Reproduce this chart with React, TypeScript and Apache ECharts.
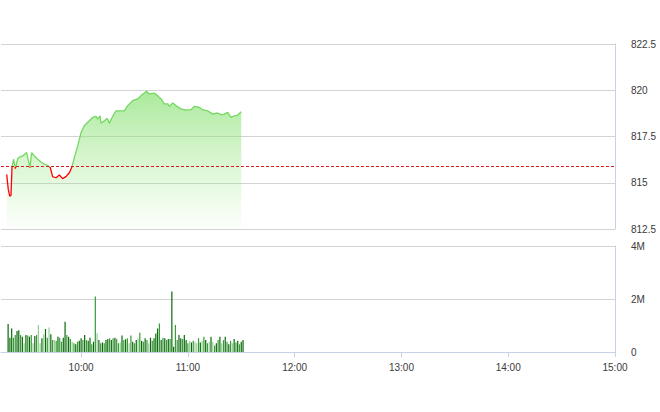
import React, { useEffect, useRef, useState } from "react";
import * as echarts from "echarts";

// Minutes after 09:15 for each price reading
const priceMinutes = [3.2,4.1,4.9,5.6,6.2,7.1,8.1,9.4,10.3,12.2,14.4,15.4,16.3,17.2,18.7,20.6,22.5,24.3,26.2,27.7,29.0,30.9,32.8,34.6,36.5,38.4,39.9,41.2,43.1,45.0,46.8,49.6,51.5,53.4,54.3,55.6,56.2,58.1,59.6,60.9,62.4,64.6,67.4,69.3,71.2,74.0,76.8,78.7,81.8,83.3,86.2,88.0,89.9,91.8,93.7,94.6,96.5,98.3,101.1,104.0,106.8,108.6,111.4,113.3,116.1,118.9,121.7,123.6,125.5,127.4,129.2,131.1,133.0,135.0];
const priceValues = [815.45,814.64,814.28,814.31,815.87,816.27,815.76,816.30,816.38,816.45,816.63,816.18,815.82,816.63,816.45,816.27,816.12,816.00,815.94,815.82,815.33,815.27,815.42,815.22,815.33,815.54,815.87,816.36,816.99,817.72,818.08,818.35,818.53,818.59,818.44,818.62,818.22,818.35,818.48,818.22,818.53,818.89,818.89,818.89,819.17,819.44,819.53,819.71,819.95,819.80,819.84,819.71,819.53,819.26,819.26,819.13,819.31,819.17,818.99,818.93,818.95,819.13,819.08,818.95,818.89,818.71,818.77,818.68,818.71,818.80,818.53,818.62,818.66,818.84];
const referencePrice = 815.87;

// Volume per minute starting 09:19 (millions)
const volumeValues = [
  1.06,0.54,0.89,0.54,0.64,0.79,0.82,0.64,0.58,0.33,0.64,0.62,0.58,0.64,0.33,0.60,0.64,1.02,0.33,0.52,0.67,0.87,0.54,0.92,0.67,0.45,0.45,0.42,0.58,0.54,0.39,0.54,1.14,0.64,0.58,0.49,0.39,0.33,0.29,0.39,0.42,
  0.52,0.45,0.64,0.45,0.42,0.54,0.29,0.39,2.09,0.70,0.45,0.33,0.36,0.33,0.45,0.49,0.52,0.45,0.52,0.54,0.49,0.33,0.36,0.62,0.45,0.48,0.52,0.33,0.62,0.39,0.33,0.45,0.52,0.73,0.42,0.39,0.52,0.45,0.33,0.54,0.42,0.52,0.70,0.89,1.08,
  0.45,0.54,0.52,0.45,0.49,0.49,2.28,0.20,1.02,0.45,0.64,0.52,0.49,0.64,0.45,0.33,0.42,0.36,0.42,0.39,0.33,0.52,0.36,0.42,0.58,0.45,0.33,0.39,0.58,0.39,0.24,0.33,0.45,0.58,0.33,0.45,0.58,0.39,0.29,0.42,0.33,0.49,0.36,0.42,0.29,0.39,0.45
];
// d = dark, m = medium, l = light green
const volumeShades =
  "dddmmddmdldmdmldmlldldmldmlmdmmddmdmlmdmd" +
  "dmdmddmdmldmdmddmdmdmmldmdmlmdmdlmdmdmldmdddm" +
  "dmdmdmddmmddmddmldmllmdlmdmldlmdmdlmdmdmldmdmdd";

const timeLabels = ["10:00", "11:00", "12:00", "13:00", "14:00", "15:00"];

const toMin = (s: string) => {
  const [h, m] = s.split(":").map(Number);
  return h * 60 + m;
};
const START = toMin("09:15");
const END = toMin("15:00");
const VOL_START = toMin("09:19");

const shadeColor: Record<string, string> = { d: "#0a6a0a", m: "#379b37", l: "#98d098" };

export default function App() {
  const ref = useRef<HTMLDivElement>(null);
  const [err, setErr] = useState("");
  useEffect(() => {
    if (!ref.current) return;
    const chart = echarts.init(ref.current, null, { renderer: "svg" });
    try {
      const pricePts = priceMinutes.map((m, i) => [START + m, priceValues[i]]);
      const volPts = volumeValues.map((v, i) => ({
        value: [VOL_START + i, v * 1e6],
        itemStyle: { color: shadeColor[volumeShades[i]] || shadeColor.d },
      }));
      const ticks = timeLabels.map(toMin);
      const labelStyle = { color: "#3a3a3a", fontSize: 10, fontFamily: "Liberation Sans, Arial, sans-serif" };
      const axisBlue = "#c6d3e6";
      const splitGray = "#d3d3d3";
      const maxV = Math.max(...priceValues);
      const minV = Math.min(...priceValues);
      const cut = (maxV - referencePrice) / (maxV - minV);
      const lineColor = new echarts.graphic.LinearGradient(0, 0, 0, 1, [
        { offset: 0, color: "#74d860" },
        { offset: cut, color: "#74d860" },
        { offset: cut, color: "#ff0000" },
        { offset: 1, color: "#ff0000" },
      ]);
      chart.setOption({
        animation: false,
        grid: [
          { left: 1, right: 45, top: 44, height: 185 },
          { left: 1, right: 45, top: 246, height: 106 },
        ],
        xAxis: [
          {
            type: "value", gridIndex: 0, min: START, max: END,
            axisLine: { show: false }, axisTick: { show: false }, axisLabel: { show: false }, splitLine: { show: false },
          },
          {
            type: "value", gridIndex: 1, min: START, max: END,
            axisLine: { show: true, lineStyle: { color: axisBlue } },
            axisTick: { show: true, customValues: ticks, length: 5, lineStyle: { color: axisBlue } },
            axisLabel: {
              ...labelStyle, margin: 10, customValues: ticks,
              formatter: (v: number) => {
                const h = Math.floor(v / 60);
                const m = v % 60;
                return `${h < 10 ? "0" + h : h}:${m < 10 ? "0" + m : m}`;
              },
            },
            splitLine: { show: false },
          },
        ],
        yAxis: [
          {
            type: "value", gridIndex: 0, position: "right", min: 812.5, max: 822.5, interval: 2.5,
            axisLine: { show: true, lineStyle: { color: axisBlue } },
            axisTick: { show: false },
            axisLabel: { ...labelStyle, margin: 16 },
            splitLine: { show: true, lineStyle: { color: splitGray } },
          },
          {
            type: "value", gridIndex: 1, position: "right", min: 0, max: 4e6, interval: 2e6,
            axisLine: { show: true, lineStyle: { color: axisBlue } },
            axisTick: { show: false },
            axisLabel: { ...labelStyle, margin: 16, formatter: (v: number) => (v === 0 ? "0" : v / 1e6 + "M") },
            splitLine: { show: true, lineStyle: { color: splitGray } },
          },
        ],
        series: [
          {
            type: "line", xAxisIndex: 0, yAxisIndex: 0, data: pricePts, symbol: "none",
            lineStyle: { width: 0 },
            areaStyle: {
              origin: "start",
              color: new echarts.graphic.LinearGradient(0, 0, 0, 1, [
                { offset: 0, color: "rgba(128,222,106,0.95)" },
                { offset: 1, color: "rgba(160,235,140,0.05)" },
              ]),
            },
            silent: true,
          },
          {
            type: "line", xAxisIndex: 0, yAxisIndex: 0, data: pricePts, symbol: "none",
            lineStyle: { width: 1.3, color: lineColor },
            markLine: {
              silent: true, symbol: "none", label: { show: false },
              lineStyle: { color: "#d81e1e", type: [3, 2], width: 1 },
              data: [{ yAxis: referencePrice }],
            },
          },
          {
            type: "bar", xAxisIndex: 1, yAxisIndex: 1, data: volPts, barWidth: 1.2,
          },
        ],
      });
    } catch (e: any) {
      setErr(String(e && e.stack ? e.stack : e));
    }
    return () => chart.dispose();
  }, []);
  return (
    <>
      <div ref={ref} style={{ position: "fixed", left: 0, top: 0, width: 660, height: 412, background: "#fff" }} />
      {err ? <pre style={{ position: "fixed", left: 0, top: 0, fontSize: 9, whiteSpace: "pre-wrap", width: 650 }}>{err}</pre> : null}
    </>
  );
}
